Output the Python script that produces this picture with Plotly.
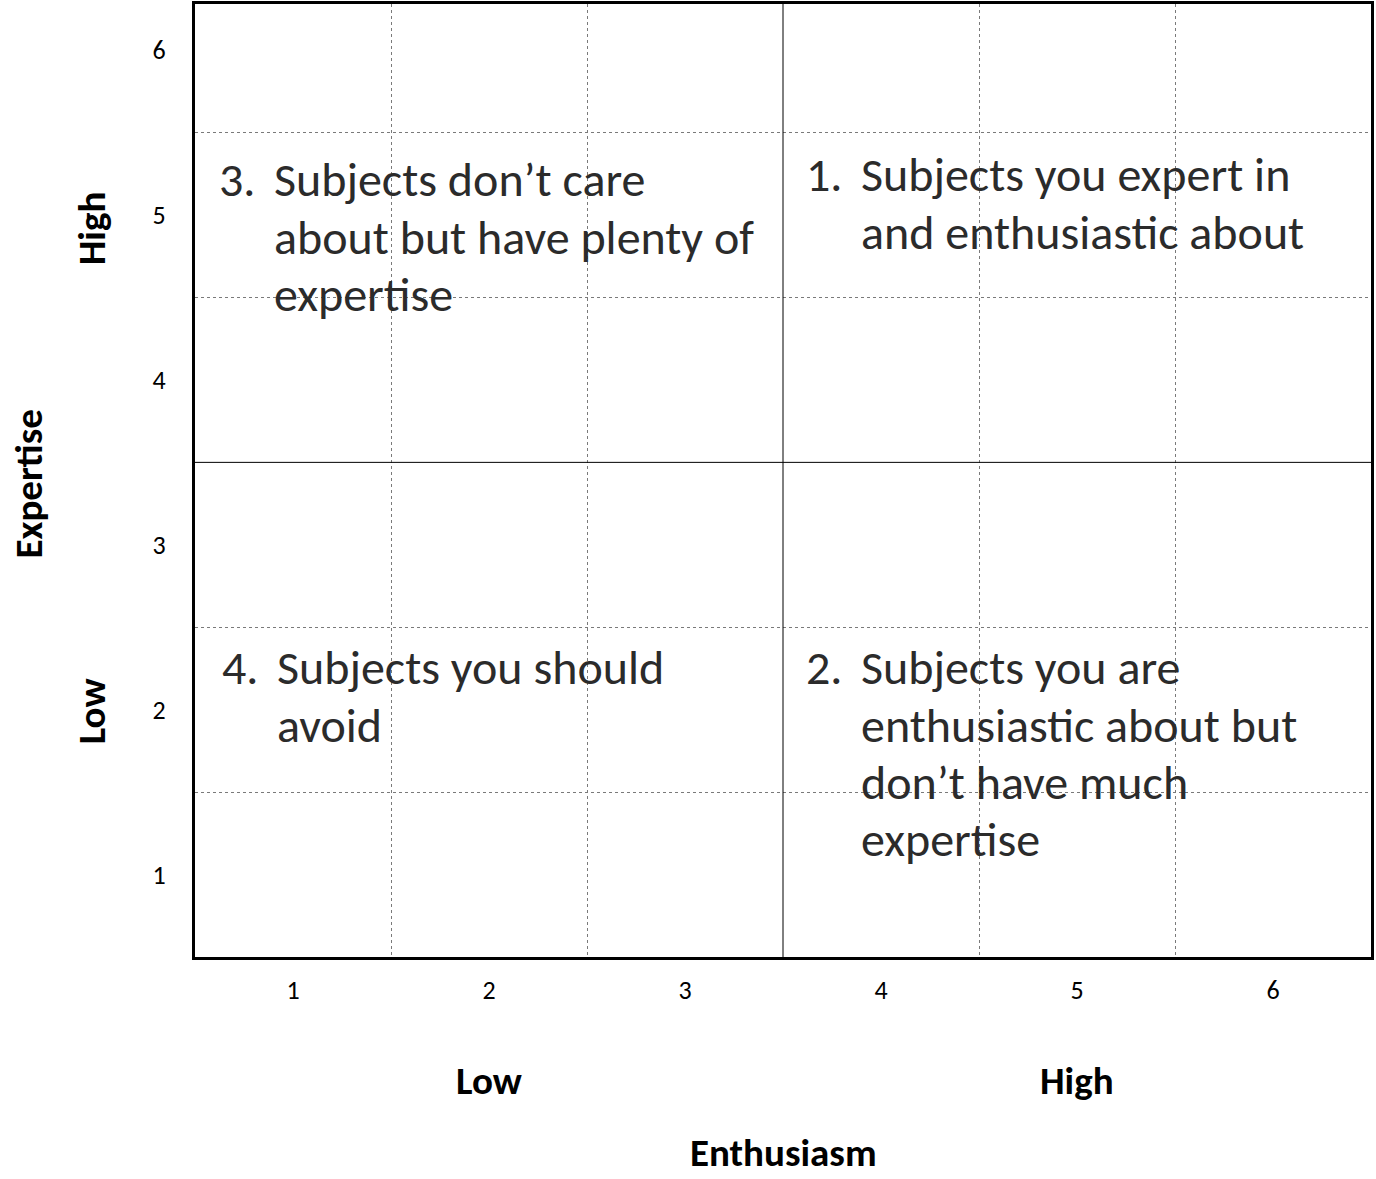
import plotly.graph_objects as go

# ---- data ----
x_ticks = [1, 2, 3, 4, 5, 6]
y_ticks = [1, 2, 3, 4, 5, 6]
minor_grid = [1.5, 2.5, 4.5, 5.5]
quadrant_split = 3.5
x_range = [0.5, 6.5]
y_range = [0.5, 6.28]

x_level_labels = ["Low", "High"]
x_level_pos = [2, 5]
y_level_labels = ["Low", "High"]
y_level_pos = [1.99, 4.92]
x_title = "Enthusiasm"
y_title = "Expertise"

quad_numbers = ["1.", "2.", "3.", "4."]
quad_lines = [
    ["Subjects you expert in", "and enthusiastic about"],
    ["Subjects you are", "enthusiastic about but", "don\u2019t have much", "expertise"],
    ["Subjects don\u2019t care", "about but have plenty of", "expertise"],
    ["Subjects you should", "avoid"],
]
# anchor positions (data coords): number x, text x, first-line centre y
quad_num_x = [3.607, 3.607, 0.612, 0.628]
quad_txt_x = [3.888, 3.888, 0.893, 0.908]
quad_first_y = [5.244, 2.255, 5.214, 2.255]
LINE_STEP = 0.348  # data units between text lines

FONT = "Carlito, Lato, sans-serif"
TXT_COLOR = "#2b2b2b"
QFS = 48

fig = go.Figure()
fig.add_trace(go.Scatter(x=[], y=[], mode="markers", showlegend=False))

axis_common = dict(
    showline=True, linewidth=3, linecolor="black", mirror=True,
    showgrid=False, zeroline=False, ticks="",
    tickfont=dict(family=FONT, size=26, color="black"),
    minor=dict(tickvals=minor_grid, showgrid=True, gridcolor="#7a7a7a",
               griddash="dot", gridwidth=1, ticks=""),
)
fig.update_xaxes(range=x_range, tickvals=x_ticks, ticklabelstandoff=8, **axis_common)
fig.update_yaxes(range=y_range, tickvals=y_ticks, ticklabelstandoff=21, **axis_common)

fig.add_shape(type="line", xref="x", yref="paper", x0=quadrant_split, x1=quadrant_split,
              y0=0, y1=1, line=dict(color="black", width=1))
fig.add_shape(type="line", xref="paper", yref="y", x0=0, x1=1,
              y0=quadrant_split, y1=quadrant_split, line=dict(color="black", width=1))

qfont = dict(family=FONT, size=QFS, color=TXT_COLOR)
for num, lines, nx, tx, fy in zip(quad_numbers, quad_lines, quad_num_x, quad_txt_x,
                                  quad_first_y):
    fig.add_annotation(x=nx, y=fy, xref="x", yref="y", text=num, showarrow=False,
                       xanchor="left", yanchor="middle", font=qfont)
    for i, line in enumerate(lines):
        fig.add_annotation(x=tx, y=fy - i * LINE_STEP, xref="x", yref="y", text=line,
                           showarrow=False, xanchor="left", yanchor="middle", font=qfont)

bold = dict(family=FONT, size=39, color="black", weight="bold")
for lab, pos in zip(x_level_labels, x_level_pos):
    fig.add_annotation(x=pos, y=0, xref="x", yref="paper", yshift=-123, text=lab,
                       showarrow=False, xanchor="center", yanchor="middle", font=bold)
for lab, pos in zip(y_level_labels, y_level_pos):
    fig.add_annotation(x=0, y=pos, xref="paper", yref="y", xshift=-104, text=lab,
                       showarrow=False, xanchor="center", yanchor="middle",
                       textangle=-90, font=bold)
fig.add_annotation(x=0.5, y=0, xref="paper", yref="paper", yshift=-221, text=x_title,
                   showarrow=False, xanchor="center", yanchor="bottom", font=bold)
fig.add_annotation(x=0, y=0.5, xref="paper", yref="paper", xshift=-167, yshift=-4,
                   text=y_title, showarrow=False, xanchor="center", yanchor="middle",
                   textangle=-90, font=bold)

fig.update_layout(
    width=1376, height=1179,
    margin=dict(l=195, r=5, t=1, b=222, pad=0),
    plot_bgcolor="white", paper_bgcolor="white",
)
fig.write_html("out.html", config={"displayModeBar": False},
               post_script="document.body.style.margin='0';")
